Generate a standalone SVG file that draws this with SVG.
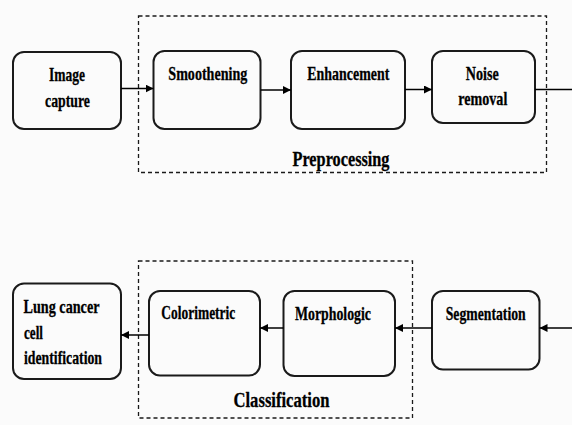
<svg xmlns="http://www.w3.org/2000/svg" width="572" height="425" viewBox="0 0 572 425">
<defs>
<marker id="ah" viewBox="0 0 10 10" refX="10" refY="5" markerWidth="8" markerHeight="8" markerUnits="userSpaceOnUse" orient="auto">
<path d="M0,0 L10,5 L0,10 z" fill="#000"/>
</marker>
<style>
.node{fill:#fbfbfb;stroke:#1a1a1a;stroke-width:2}
.grp{fill:none;stroke:#1a1a1a;stroke-width:1.3;stroke-dasharray:4 3}
.t{font-family:'Liberation Serif','DejaVu Serif',serif;font-weight:700;font-size:19px;fill:#000;stroke:#000;stroke-width:0.3}
.lbl{font-family:'Liberation Serif','DejaVu Serif',serif;font-weight:700;font-size:21px;fill:#000;stroke:#000;stroke-width:0.3}
.c{stroke:#000;stroke-width:1.5;fill:none}
</style>
</defs>
<rect width="572" height="425" fill="#fbfbfb"/>
<g id="preprocessing">
<rect class="grp" x="138.5" y="16" width="408" height="156.5"/>
<text class="lbl" x="292.5" y="166" textLength="97" lengthAdjust="spacingAndGlyphs">Preprocessing</text>
</g>
<g id="classification">
<rect class="grp" x="138.5" y="261" width="274" height="157"/>
<text class="lbl" x="233.5" y="407" textLength="96" lengthAdjust="spacingAndGlyphs">Classification</text>
</g>
<g id="image-capture">
<rect class="node" x="13" y="52" width="108" height="77" rx="11"/>
<text class="t" x="49" y="81" textLength="36" lengthAdjust="spacingAndGlyphs">Image</text>
<text class="t" x="45" y="107" textLength="45" lengthAdjust="spacingAndGlyphs">capture</text>
</g>
<g id="smoothening">
<rect class="node" x="153.5" y="51" width="107" height="78" rx="11"/>
<text class="t" x="168.3" y="80" textLength="79" lengthAdjust="spacingAndGlyphs">Smoothening</text>
</g>
<g id="enhancement">
<rect class="node" x="291" y="51" width="114" height="78" rx="11"/>
<text class="t" x="307.3" y="80" textLength="82" lengthAdjust="spacingAndGlyphs">Enhancement</text>
</g>
<g id="noise-removal">
<rect class="node" x="432" y="51" width="103" height="72" rx="11"/>
<text class="t" x="465.7" y="80" textLength="33" lengthAdjust="spacingAndGlyphs">Noise</text>
<text class="t" x="458.3" y="105" textLength="49" lengthAdjust="spacingAndGlyphs">removal</text>
</g>
<g id="lung-cancer">
<rect class="node" x="13" y="283.5" width="108" height="95.5" rx="11"/>
<text class="t" x="23.5" y="313" textLength="76" lengthAdjust="spacingAndGlyphs">Lung cancer</text>
<text class="t" x="24" y="339" textLength="19" lengthAdjust="spacingAndGlyphs">cell</text>
<text class="t" x="24" y="364" textLength="78" lengthAdjust="spacingAndGlyphs">identification</text>
</g>
<g id="colorimetric">
<rect class="node" x="149" y="291" width="111" height="84.5" rx="11"/>
<text class="t" x="161.3" y="318.5" textLength="74" lengthAdjust="spacingAndGlyphs">Colorimetric</text>
</g>
<g id="morphologic">
<rect class="node" x="283.5" y="291" width="111.5" height="85" rx="11"/>
<text class="t" x="295" y="320" textLength="76" lengthAdjust="spacingAndGlyphs">Morphologic</text>
</g>
<g id="segmentation">
<rect class="node" x="432" y="291" width="107.5" height="78.5" rx="11"/>
<text class="t" x="445.7" y="320" textLength="80" lengthAdjust="spacingAndGlyphs">Segmentation</text>
</g>
<g id="connectors">
<line class="c" x1="121" y1="88.5" x2="153.5" y2="88.5" marker-end="url(#ah)"/>
<line class="c" x1="260.5" y1="90" x2="291" y2="90" marker-end="url(#ah)"/>
<line class="c" x1="405" y1="89.5" x2="432" y2="89.5" marker-end="url(#ah)"/>
<line class="c" x1="535" y1="89.5" x2="572" y2="89.5"/>
<line class="c" x1="572" y1="328" x2="539.5" y2="328" marker-end="url(#ah)"/>
<line class="c" x1="432" y1="328" x2="395" y2="328" marker-end="url(#ah)"/>
<line class="c" x1="283.5" y1="328" x2="260" y2="328" marker-end="url(#ah)"/>
<line class="c" x1="149" y1="335" x2="121" y2="335" marker-end="url(#ah)"/>
</g>
</svg>
